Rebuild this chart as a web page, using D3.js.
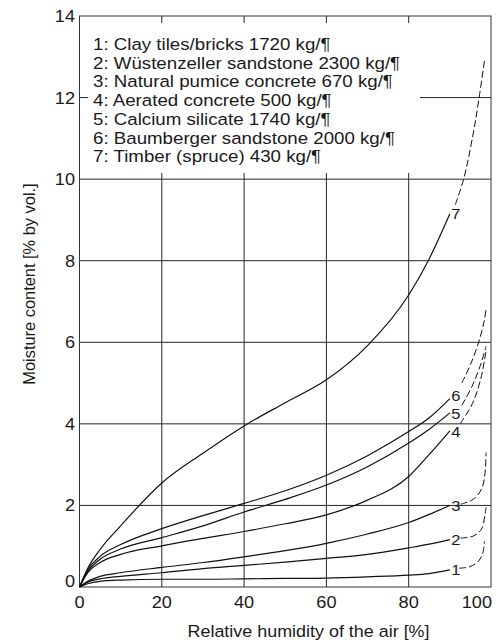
<!DOCTYPE html>
<html>
<head>
<meta charset="utf-8">
<script src="https://cdn.jsdelivr.net/npm/d3@7"></script>
<style>
  body { margin: 0; background: #fff; }
  svg { display: block; }
  text { font-family: "Liberation Sans", Arial, Helvetica, sans-serif; fill: #1a1a1a; }
</style>
</head>
<body>
<svg id="chart" width="504" height="643"></svg>
<script>
// Relative humidity [%] at which the sorption curves are sampled (measured range)
const humidity = [0, 2, 5, 10, 20, 30, 40, 50, 60, 70, 80, 85, 90];

// Moisture content [% by vol.] per material over the measured range
const clayTiles   = [0, 0.08, 0.14, 0.17, 0.19, 0.19, 0.20, 0.21, 0.22, 0.25, 0.29, 0.33, 0.42];
const wuestenzeller = [0, 0.12, 0.20, 0.26, 0.35, 0.45, 0.53, 0.61, 0.70, 0.80, 0.96, 1.05, 1.16];
const pumice      = [0, 0.14, 0.26, 0.35, 0.48, 0.60, 0.74, 0.89, 1.07, 1.30, 1.58, 1.78, 2.00];
const aerated     = [0, 0.35, 0.60, 0.80, 1.01, 1.19, 1.36, 1.55, 1.77, 2.13, 2.71, 3.25, 3.83];
const calcium     = [0, 0.38, 0.68, 0.93, 1.21, 1.50, 1.84, 2.15, 2.50, 2.95, 3.53, 3.87, 4.27];
const baumberger  = [0, 0.42, 0.75, 1.04, 1.43, 1.75, 2.05, 2.36, 2.74, 3.22, 3.81, 4.15, 4.62];
const timber      = [0, 0.46, 0.92, 1.50, 2.55, 3.28, 3.95, 4.52, 5.08, 5.92, 7.16, 8.05, 9.15];

// Extrapolated high-humidity branches (drawn dashed): humidity and moisture pairs
const clayTilesHighRh = [92.2, 94.9, 96.9, 98.0, 98.4];
const clayTilesHigh   = [0.46, 0.50, 0.63, 0.83, 1.12];
const wuestenzellerHighRh = [92.6, 95.7, 97.7, 98.5, 98.8];
const wuestenzellerHigh   = [1.20, 1.25, 1.42, 1.75, 1.95];
const pumiceHighRh = [92.6, 95.7, 97.7, 98.5, 98.8];
const pumiceHigh   = [2.03, 2.15, 2.40, 2.75, 3.30];
const aeratedHighRh = [92.5, 95.5, 97.5, 98.8];
const aeratedHigh   = [4.00, 4.50, 5.10, 5.80];
const calciumHighRh = [92.9, 95.3, 97.3, 98.8];
const calciumHigh   = [4.45, 4.90, 5.40, 5.90];
const baumbergerHighRh = [92.9, 95.0, 97.0, 98.3, 98.8];
const baumbergerHigh   = [5.00, 5.45, 6.00, 6.50, 6.80];
const timberHighRh = [91.3, 93.3, 95.7, 97.1, 98.5];
const timberHigh   = [9.37, 9.98, 11.13, 11.99, 12.97];

// Legend entries, numbered as the curves
const legendLabels = [
  "1: Clay tiles/bricks 1720 kg/¶",
  "2: Wüstenzeller sandstone 2300 kg/¶",
  "3: Natural pumice concrete 670 kg/¶",
  "4: Aerated concrete 500 kg/¶",
  "5: Calcium silicate 1740 kg/¶",
  "6: Baumberger sandstone 2000 kg/¶",
  "7: Timber (spruce) 430 kg/¶"
];

const xTicks = [0, 20, 40, 60, 80, 100];
const yTicks = [0, 2, 4, 6, 8, 10, 12, 14];

const series = [
  { id: "1", measured: clayTiles,     highRh: clayTilesHighRh,     high: clayTilesHigh,     nudge: 0 },
  { id: "2", measured: wuestenzeller, highRh: wuestenzellerHighRh, high: wuestenzellerHigh, nudge: 0 },
  { id: "3", measured: pumice,        highRh: pumiceHighRh,        high: pumiceHigh,        nudge: 0 },
  { id: "4", measured: aerated,       highRh: aeratedHighRh,       high: aeratedHigh,       nudge: 1 },
  { id: "5", measured: calcium,       highRh: calciumHighRh,       high: calciumHigh,       nudge: 0.5 },
  { id: "6", measured: baumberger,    highRh: baumbergerHighRh,    high: baumbergerHigh,    nudge: -2.5 },
  { id: "7", measured: timber,        highRh: timberHighRh,        high: timberHigh,        nudge: 0 }
];

const svg = d3.select("#chart");
const plotLeft = 79.5, plotRight = 491, plotTop = 16, plotBottom = 587;
const x = d3.scaleLinear().domain([0, 100]).range([plotLeft, plotRight]);
const y = d3.scaleLinear().domain([0, 14]).range([plotBottom, plotTop]);
const stretch = "scale(1.1,1)";   // slightly wide lettering

// grid
const grid = svg.append("g").attr("stroke", "#262626").attr("stroke-width", 1);
grid.selectAll("line.v").data(xTicks.slice(1, -1)).join("line").attr("class", "v")
  .attr("x1", d => x(d)).attr("x2", d => x(d))
  .attr("y1", y(0)).attr("y2", y(14));
grid.selectAll("line.h").data(yTicks.slice(1, -1)).join("line").attr("class", "h")
  .attr("x1", x(0)).attr("x2", x(100))
  .attr("y1", d => y(d)).attr("y2", d => y(d));

// frame
svg.append("rect")
  .attr("x", x(0)).attr("y", y(14))
  .attr("width", x(100) - x(0)).attr("height", y(0) - y(14))
  .attr("fill", "none").attr("stroke", "#333").attr("stroke-width", 1);

// legend panel hides the grid behind the text
svg.append("rect")
  .attr("x", 88).attr("y", 23).attr("width", 332).attr("height", 150)
  .attr("fill", "#fff");
const legend = svg.append("g").attr("font-size", 17);
legend.selectAll("text").data(legendLabels).join("text")
  .attr("transform", (d, i) => `translate(93,${50 + i * 18.7}) ${stretch}`)
  .text(d => d);

// axis tick labels
const xLab = svg.append("g").attr("font-size", 16.5);
xLab.selectAll("text").data(xTicks).join("text")
  .attr("text-anchor", d => d === 100 ? "end" : "middle")
  .attr("transform", d => `translate(${d === 100 ? x(d) + 1 : x(d)},607.5) ${stretch}`)
  .text(d => d);
const yLab = svg.append("g").attr("font-size", 16.5);
yLab.selectAll("text").data(yTicks).join("text")
  .attr("text-anchor", "end")
  .attr("transform", d => `translate(75,${d === 0 ? y(d) : y(d) + 6}) ${stretch}`)
  .text(d => d);

// axis titles
svg.append("text")
  .attr("font-size", 16.3).attr("text-anchor", "middle")
  .attr("transform", `translate(308.5,637) ${stretch}`)
  .text("Relative humidity of the air [%]");
svg.append("text")
  .attr("font-size", 16.4).attr("text-anchor", "middle")
  .attr("transform", "translate(35,284) rotate(-90)")
  .text("Moisture content [% by vol.]");

// curves
const measuredLine = d3.line()
  .x(d => x(d[0])).y(d => y(d[1]))
  .curve(d3.curveMonotoneX);
const highLine = d3.line()
  .x(d => x(d[0])).y(d => y(d[1]))
  .curve(d3.curveCatmullRom.alpha(0.5));

const curves = svg.append("g").attr("fill", "none").attr("stroke", "#111");
series.forEach(s => {
  const pts = humidity.map((h, i) => [h, s.measured[i]]);
  curves.append("path").attr("d", measuredLine(pts)).attr("stroke-width", 1.2);
  const hp = s.highRh.map((h, i) => [h, s.high[i]]);
  curves.append("path").attr("d", highLine(hp))
    .attr("stroke-width", 1).attr("stroke-dasharray", "7,3");
});

// curve numbers at the end of the measured range
const labels = svg.append("g").attr("font-size", 15);
labels.selectAll("text").data(series).join("text")
  .attr("transform", s => `translate(${x(humidity[humidity.length - 1]) + 1.5},${y(s.measured[s.measured.length - 1]) + s.nudge}) ${stretch}`)
  .attr("dy", "0.36em")
  .text(s => s.id);
</script>
</body>
</html>
